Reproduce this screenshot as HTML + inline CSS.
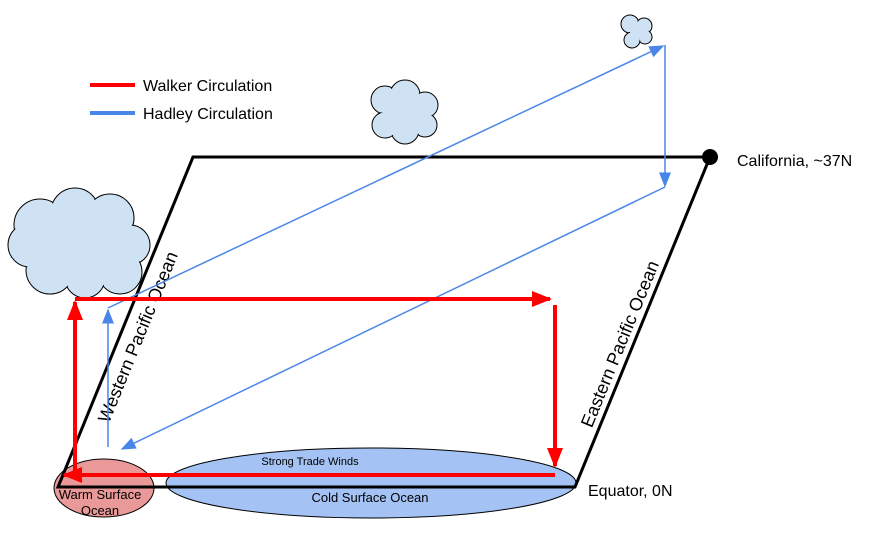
<!DOCTYPE html>
<html><head><meta charset="utf-8"><style>
html,body{margin:0;padding:0;background:#fff;}
svg{display:block;font-family:"Liberation Sans",sans-serif;}
</style></head><body>
<svg width="883" height="546" viewBox="0 0 883 546" xmlns="http://www.w3.org/2000/svg">
<defs>
<marker id="rh" markerWidth="5" markerHeight="4" refX="4.5" refY="2" orient="auto" markerUnits="strokeWidth"><path d="M0,0 L5,2 L0,4 z" fill="#f00"/></marker>
<marker id="bh" markerWidth="10" markerHeight="8" refX="9" refY="4" orient="auto" markerUnits="strokeWidth"><path d="M0,0 L10,4 L0,8 z" fill="#4a86e8"/></marker>
</defs>
<g fill="#cfe2f3" stroke="#000" stroke-width="1">
<circle cx="40" cy="225" r="26"/><circle cx="75" cy="212" r="24"/><circle cx="110" cy="218" r="24"/><circle cx="130" cy="245" r="20"/><circle cx="120" cy="272" r="22"/><circle cx="85" cy="278" r="20"/><circle cx="50" cy="270" r="24"/><circle cx="30" cy="245" r="22"/>
<circle cx="385" cy="100" r="14"/><circle cx="405" cy="95" r="15"/><circle cx="425" cy="105" r="13"/><circle cx="425" cy="125" r="12"/><circle cx="405" cy="130" r="14"/><circle cx="385" cy="125" r="13"/>
<circle cx="630" cy="24" r="9"/><circle cx="644" cy="26" r="8"/><circle cx="645" cy="37" r="7"/><circle cx="632" cy="40" r="8"/>
</g>
<g fill="#cfe2f3">
<circle cx="40" cy="225" r="25"/><circle cx="75" cy="212" r="23"/><circle cx="110" cy="218" r="23"/><circle cx="130" cy="245" r="19"/><circle cx="120" cy="272" r="21"/><circle cx="85" cy="278" r="19"/><circle cx="50" cy="270" r="23"/><circle cx="30" cy="245" r="21"/><rect x="40" y="220" width="85" height="60"/>
<circle cx="385" cy="100" r="13"/><circle cx="405" cy="95" r="14"/><circle cx="425" cy="105" r="12"/><circle cx="425" cy="125" r="11"/><circle cx="405" cy="130" r="13"/><circle cx="385" cy="125" r="12"/><rect x="385" y="100" width="40" height="28"/>
<circle cx="630" cy="24" r="8"/><circle cx="644" cy="26" r="7"/><circle cx="645" cy="37" r="6"/><circle cx="632" cy="40" r="7"/><rect x="630" y="26" width="14" height="12"/>
</g>
<ellipse cx="371" cy="483" rx="205" ry="35" fill="#a4c2f4" stroke="#000" stroke-width="1"/>
<ellipse cx="104" cy="488" rx="50" ry="29" fill="#ea9999" stroke="#000" stroke-width="1"/>
<polygon points="193,157 710,157 575,487 58,487" fill="none" stroke="#000" stroke-width="3"/>
<circle cx="710" cy="157" r="8" fill="#000"/>
<text x="737" y="166" font-size="16">California, ~37N</text>
<text x="588" y="496" font-size="16">Equator, 0N</text>
<text font-size="18" text-anchor="middle" transform="translate(138,337) rotate(-67.7)" dy="6">Western Pacific Ocean</text>
<text font-size="18" text-anchor="middle" transform="translate(620,344) rotate(-67.7)" dy="6">Eastern Pacific Ocean</text>
<text x="310" y="465" font-size="11" text-anchor="middle">Strong Trade Winds</text>
<text x="370" y="502" font-size="13" text-anchor="middle">Cold Surface Ocean</text>
<text x="100" y="499" font-size="13" text-anchor="middle">Warm Surface</text>
<text x="100" y="515" font-size="13" text-anchor="middle">Ocean</text>
<g stroke="#4a86e8" stroke-width="1.5" fill="none">
<line x1="108" y1="447" x2="108" y2="310" marker-end="url(#bh)"/>
<line x1="108" y1="308" x2="663" y2="46" marker-end="url(#bh)"/>
<line x1="665" y1="45" x2="665" y2="186" marker-end="url(#bh)"/>
<line x1="665" y1="187" x2="122" y2="449" marker-end="url(#bh)"/>
</g>
<g stroke="#f00" stroke-width="4" fill="none">
<line x1="75" y1="476" x2="75" y2="302" marker-end="url(#rh)"/>
<line x1="75" y1="299" x2="550" y2="299" marker-end="url(#rh)"/>
<line x1="555" y1="305" x2="555" y2="466" marker-end="url(#rh)"/>
<line x1="555" y1="475" x2="64" y2="475" marker-end="url(#rh)"/>
</g>
<line x1="90" y1="85" x2="135" y2="85" stroke="#f00" stroke-width="4"/>
<line x1="90" y1="113" x2="135" y2="113" stroke="#4a86e8" stroke-width="4"/>
<text x="143" y="91" font-size="16">Walker Circulation</text>
<text x="143" y="119" font-size="16">Hadley Circulation</text>
</svg>
</body></html>
